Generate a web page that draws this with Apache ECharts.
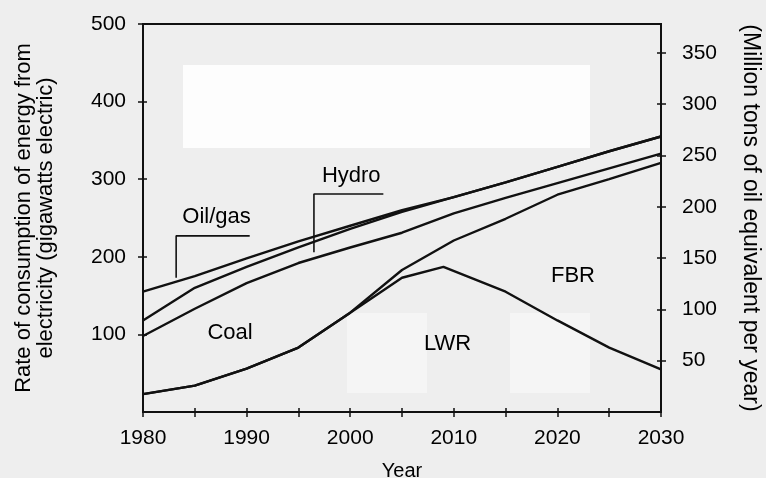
<!DOCTYPE html>
<html><head><meta charset="utf-8">
<script src="https://cdn.jsdelivr.net/npm/echarts@6/dist/echarts.min.js"></script>
<style>html,body{margin:0;padding:0;background:#eeeeee}#c{width:766px;height:478px}</style>
</head><body><div id="c"></div>
<script>
// Years at which boundaries were read
const years = [1980,1985,1990,1995,2000,2005,2010,2015,2020,2025,2030];
const lwrYears = [1980,1985,1990,1995,2000,2005,2009,2015,2020,2025,2030];
// Upper boundary of each stacked band (gigawatts electric)
const lwrTop    = [23,34,56,83,128,173,187,155,118,83,55];
const fbrTop    = [23,34,56,83,128,183,221,249,280,300,321];
const coalTop   = [98,133,166,192,212,231,256,276,295,314,333];
const hydroTop  = [118,160,187,212,236,258,277,296,316,336,355];
const oilGasTop = [155,175,198,220,240,260,277,296,316,336,355];
// Band labels and their positions in data units
const bandNames = ['Oil/gas','Hydro','Coal','LWR','FBR'];
const bandLabelPos = [[1987.1,251],[2000.1,304],[1988.4,102],[2009.4,88],[2021.5,175]];
// Leader lines for Oil/gas and Hydro labels (data units)
const oilLeader = [[1983.2,173],[1983.2,227],[1990.3,227]];
const hydroLeader = [[1996.5,206],[1996.5,281],[2003.2,281]];
// Axes
const xMin = 1980, xMax = 2030, xStep = 10;
const leftMax = 500, leftStep = 100;
const rightMax = 378, rightStep = 50;
const xTitle = 'Year';
const leftTitle = 'Rate of consumption of energy from\nelectricity (gigawatts electric)';
const rightTitle = '(Million tons of oil equivalent per year)';

const FONT = 'Liberation Sans';
const INK = '#000';
const pair = (xs, ys) => xs.map((x, i) => [x, ys[i]]);
const lineSeries = (name, xs, ys) => ({
  name, type: 'line', data: pair(xs, ys), symbol: 'none',
  lineStyle: {color: '#111', width: 2.4}, z: 3, silent: true
});

const chart = echarts.init(document.getElementById('c'), null, {renderer: 'canvas'});
chart.setOption({
  backgroundColor: '#eeeeee',
  animation: false,
  textStyle: {fontFamily: FONT, color: INK},
  graphic: [
    {type: 'rect', shape: {x: 183, y: 65, width: 407, height: 83}, style: {fill: '#fdfdfd'}, z: -1, silent: true},
    {type: 'rect', shape: {x: 347, y: 313, width: 80, height: 80}, style: {fill: '#f5f5f5'}, z: -1, silent: true},
    {type: 'rect', shape: {x: 510, y: 313, width: 80, height: 80}, style: {fill: '#f5f5f5'}, z: -1, silent: true}
  ],
  grid: {left: 143, right: 105, top: 24, bottom: 66, outerBoundsMode: 'none', containLabel: false,
    show: true, borderColor: '#111', borderWidth: 2, backgroundColor: 'transparent'},
  xAxis: [{
    type: 'value', min: xMin, max: xMax, interval: xStep,
    axisLine: {lineStyle: {color: '#111', width: 2}},
    axisTick: {length: 5, lineStyle: {color: '#111', width: 1.5}},
    minorTick: {show: true, splitNumber: 2, length: 5, lineStyle: {color: '#111', width: 1.5}},
    splitLine: {show: false},
    axisLabel: {color: INK, fontSize: 21, margin: 16, fontFamily: FONT, formatter: v => String(v)},
    name: xTitle, nameLocation: 'middle', nameGap: 49,
    nameTextStyle: {fontSize: 20, color: INK, fontFamily: FONT}
  }, {
    type: 'value', min: xMin, max: xMax, interval: xStep, position: 'bottom',
    axisLine: {show: false},
    axisTick: {inside: true, length: 4, lineStyle: {color: '#111', width: 1.5}},
    minorTick: {show: true, splitNumber: 2, length: 4, lineStyle: {color: '#111', width: 1.5}},
    splitLine: {show: false}, axisLabel: {show: false}
  }],
  yAxis: [{
    type: 'value', min: 0, max: leftMax, interval: leftStep, position: 'left',
    axisLine: {show: true, lineStyle: {color: '#111', width: 2}},
    axisTick: {length: 5, lineStyle: {color: '#111', width: 1.5}},
    splitLine: {show: false},
    axisLabel: {color: INK, fontSize: 21, margin: 17, showMinLabel: false, fontFamily: FONT},
    name: leftTitle, nameLocation: 'middle', nameGap: 86, nameRotate: 90,
    nameTextStyle: {fontSize: 22, color: INK, lineHeight: 22, align: 'center', fontFamily: FONT}
  }, {
    type: 'value', min: 0, max: rightMax, interval: rightStep, position: 'right',
    axisLine: {show: true, lineStyle: {color: '#111', width: 2}},
    axisTick: {length: 5, lineStyle: {color: '#111', width: 1.5}},
    splitLine: {show: false},
    axisLabel: {color: INK, fontSize: 21, margin: 21, showMinLabel: false, showMaxLabel: false, fontFamily: FONT,
      formatter: v => (v % rightStep === 0 ? String(v) : '')},
    name: rightTitle, nameLocation: 'middle', nameGap: 78, nameRotate: -90,
    nameTextStyle: {fontSize: 23, color: INK, fontFamily: FONT}
  }, {
    type: 'value', min: 0, max: leftMax, interval: leftStep, position: 'left',
    axisLine: {show: false}, axisTick: {inside: true, length: 4, lineStyle: {color: '#111', width: 1.5}},
    splitLine: {show: false}, axisLabel: {show: false}
  }, {
    type: 'value', min: 0, max: rightMax, interval: rightStep, position: 'right',
    axisLine: {show: false}, axisTick: {inside: true, length: 4, lineStyle: {color: '#111', width: 1.5}},
    splitLine: {show: false}, axisLabel: {show: false}
  }],
  series: [
    lineSeries('LWR', lwrYears, lwrTop),
    lineSeries('FBR', years, fbrTop),
    lineSeries('Coal', years, coalTop),
    lineSeries('Hydro', years, hydroTop),
    lineSeries('Oil/gas', years, oilGasTop),
    {type: 'line', data: oilLeader, symbol: 'none', lineStyle: {color: '#111', width: 1.6}, z: 3, silent: true},
    {type: 'line', data: hydroLeader, symbol: 'none', lineStyle: {color: '#111', width: 1.6}, z: 3, silent: true},
    {
      type: 'scatter', symbolSize: 0, silent: true, z: 4,
      itemStyle: {opacity: 1},
      data: bandNames.map((n, i) => ({name: n, value: bandLabelPos[i]})),
      label: {show: true, position: 'inside', formatter: p => p.name, fontSize: 22, color: INK, opacity: 1, fontFamily: FONT}
    }
  ]
});
</script></body></html>
